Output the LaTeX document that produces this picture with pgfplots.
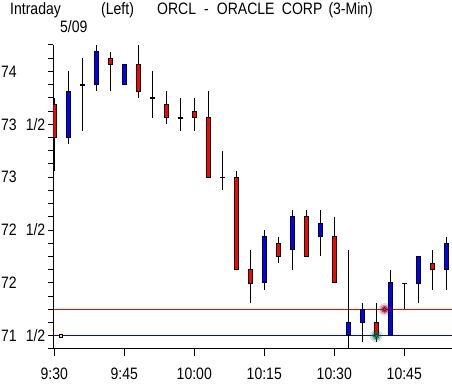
\documentclass[border=0pt]{standalone}
\usepackage{fontspec}
\setmainfont{Liberation Sans}[FakeStretch=0.85]
\usepackage{pgfplots}
\usepackage{pgfplotstable}
\pgfplotsset{compat=1.18}
\definecolor{glowred}{RGB}{235,30,85}
\definecolor{glowgreen}{RGB}{20,160,100}

% k: bar index (3-min bars from 9:30), o h l c
\pgfplotstableread{
k o h l c
1 73.375 74.0 73.3125 73.8125
3 73.875 74.25 73.8125 74.1875
5 73.875 74.0625 73.875 74.0625
15 72.0 72.5 71.9375 72.4375
17 72.3125 72.6875 72.125 72.625
19 72.4375 72.6875 72.25 72.5625
21 71.5 72.3125 71.30 71.625
22 71.625 71.8125 71.4375 71.75
24 71.5 72.125 71.5 72.0
26 72.0 72.25 71.8125 72.25
28 72.125 72.4375 71.9375 72.375
}\upT

\pgfplotstableread{
k o h l c
0 73.6875 73.75 73.0625 73.375
4 74.125 74.1875 73.8125 74.0625
6 74.0625 74.25 73.75 73.8125
8 73.6875 73.8125 73.5 73.5625
10 73.625 73.75 73.4375 73.5625
11 73.5625 73.8125 73.0 73.0
13 73.0 73.0625 72.125 72.125
14 72.125 72.3125 71.8125 72.0
16 72.375 72.4375 72.1875 72.25
18 72.625 72.6875 72.25 72.25
20 72.4375 72.625 72.0 72.0
23 71.625 71.8125 71.4375 71.5
27 72.1875 72.3125 71.9375 72.125
}\downT

\pgfplotstableread{
k o h l c
2 73.875 74.125 73.4375 73.875
7 73.75 74.0 73.5625 73.75
9 73.5625 73.75 73.4375 73.5625
12 73.0 73.25 72.875 73.0
25 72.0 72.0 71.75 72.0
}\dojiT

\pgfplotsset{
  wick/.style={draw=none, mark=none, forget plot,
    error bars/.cd, y dir=both, y explicit, error mark=none,
    error bar style={draw=black, line width=1.1bp}},
  bodyout/.style={draw=none, mark=none, forget plot,
    error bars/.cd, y dir=both, y explicit, error mark=none,
    error bar style={draw=black, line width=5bp}},
  bodyin/.style={draw=none, mark=none, forget plot,
    error bars/.cd, y dir=both, y explicit, error mark=none,
    error bar style={draw=#1, line width=3bp}},
}

\begin{document}
\begin{tikzpicture}
\begin{axis}[
  at={(0,0)}, anchor=south west,
  scale only axis, width=398.7bp, height=304bp,
  xmin=-0.0714, xmax=28.41, ymin=71.375, ymax=74.25,
  axis x line=bottom, axis y line=left,
  axis line style={-, black, line width=1bp},
  xtick={0,5,10,15,20,25},
  xticklabels={9:30,9:45,10:00,10:15,10:30,10:45},
  ytick={71.5,72,72.5,73,73.5,74},
  yticklabels={71\hspace{9bp}1/2,72,72\hspace{9bp}1/2,73,73\hspace{9bp}1/2,74},
  minor ytick={71.375,71.625,71.75,71.875,72.125,72.25,72.375,72.625,72.75,72.875,73.125,73.25,73.375,73.625,73.75,73.875,74.125,74.25},
  tick align=outside,
  major tick length=5bp, minor tick length=5bp,
  tick style={black, line width=1bp},
  xtick style={/pgfplots/major tick length=7bp},
  tick label style={font=\fontsize{16.5bp}{18bp}\selectfont, inner sep=0pt},
  yticklabel style={anchor=west, xshift=-47.3bp},
  xticklabel style={anchor=north, yshift=-14bp},
]
% horizontal reference lines
\addplot[red, line width=1bp, forget plot] coordinates {(-0.0714,71.75) (28.41,71.75)};
\addplot[blue, line width=1bp, forget plot] coordinates {(-0.0714,71.5) (28.41,71.5)};

% wicks
\addplot[wick] table[x=k, y expr={(\thisrow{h}+\thisrow{l})/2}, y error expr={(\thisrow{h}-\thisrow{l})/2}] {\upT};
\addplot[wick] table[x=k, y expr={(\thisrow{h}+\thisrow{l})/2}, y error expr={(\thisrow{h}-\thisrow{l})/2}] {\downT};
\addplot[wick] table[x=k, y expr={(\thisrow{h}+\thisrow{l})/2}, y error expr={(\thisrow{h}-\thisrow{l})/2}] {\dojiT};

% bodies: black outline then coloured fill
\addplot[bodyout] table[x=k, y expr={(\thisrow{o}+\thisrow{c})/2}, y error expr={abs(\thisrow{c}-\thisrow{o})/2+0.0047}] {\upT};
\addplot[bodyout] table[x=k, y expr={(\thisrow{o}+\thisrow{c})/2}, y error expr={abs(\thisrow{c}-\thisrow{o})/2+0.0047}] {\downT};
\addplot[bodyout] table[x=k, y expr={(\thisrow{o}+\thisrow{c})/2}, y error expr={abs(\thisrow{c}-\thisrow{o})/2+0.0047}] {\dojiT};
\addplot[bodyin=blue] table[x=k, y expr={(\thisrow{o}+\thisrow{c})/2}, y error expr={abs(\thisrow{c}-\thisrow{o})/2-0.0047}] {\upT};
\addplot[bodyin=red] table[x=k, y expr={(\thisrow{o}+\thisrow{c})/2}, y error expr={abs(\thisrow{c}-\thisrow{o})/2-0.0047}] {\downT};

% small marker
\addplot[only marks, mark=square*, mark size=1.6bp, mark options={fill=yellow, draw=black, line width=0.8bp}] coordinates {(0.48,71.5)};

% glow dots
\addplot[only marks, mark=*, mark size=6bp, mark options={fill=glowred, draw=none, opacity=0.15}] coordinates {(23.6,71.75)};
\addplot[only marks, mark=*, mark size=4.5bp, mark options={fill=glowred, draw=none, opacity=0.3}] coordinates {(23.6,71.75)};
\addplot[only marks, mark=*, mark size=3bp, mark options={fill=glowred, draw=none, opacity=0.6}] coordinates {(23.6,71.75)};
\addplot[only marks, mark=*, mark size=1.8bp, mark options={fill=glowred, draw=none}] coordinates {(23.6,71.75)};
\addplot[only marks, mark=*, mark size=6bp, mark options={fill=glowgreen, draw=none, opacity=0.15}] coordinates {(23.0,71.5)};
\addplot[only marks, mark=*, mark size=4.5bp, mark options={fill=glowgreen, draw=none, opacity=0.3}] coordinates {(23.0,71.5)};
\addplot[only marks, mark=*, mark size=3bp, mark options={fill=glowgreen, draw=none, opacity=0.6}] coordinates {(23.0,71.5)};
\addplot[only marks, mark=*, mark size=1.8bp, mark options={fill=glowgreen, draw=none}] coordinates {(23.0,71.5)};
\end{axis}

\begin{scope}[every node/.style={inner sep=0pt, anchor=base west, font=\fontsize{16.5bp}{18bp}\selectfont}]
\node at (-43.3bp,334bp) {Intraday};
\node at (47.7bp,334bp) {(Left)};
\node at (103.7bp,334bp) {ORCL};
\node at (150.7bp,334bp) {-};
\node at (163.4bp,334bp) {ORACLE};
\node at (228.4bp,334bp) {CORP};
\node at (275bp,334bp) {(3-Min)};
\node at (6.7bp,316bp) {5/09};
\end{scope}

\pgfresetboundingbox
\path[use as bounding box] (-53.3bp,-37bp) rectangle (398.7bp,349bp);
\end{tikzpicture}
\end{document}
